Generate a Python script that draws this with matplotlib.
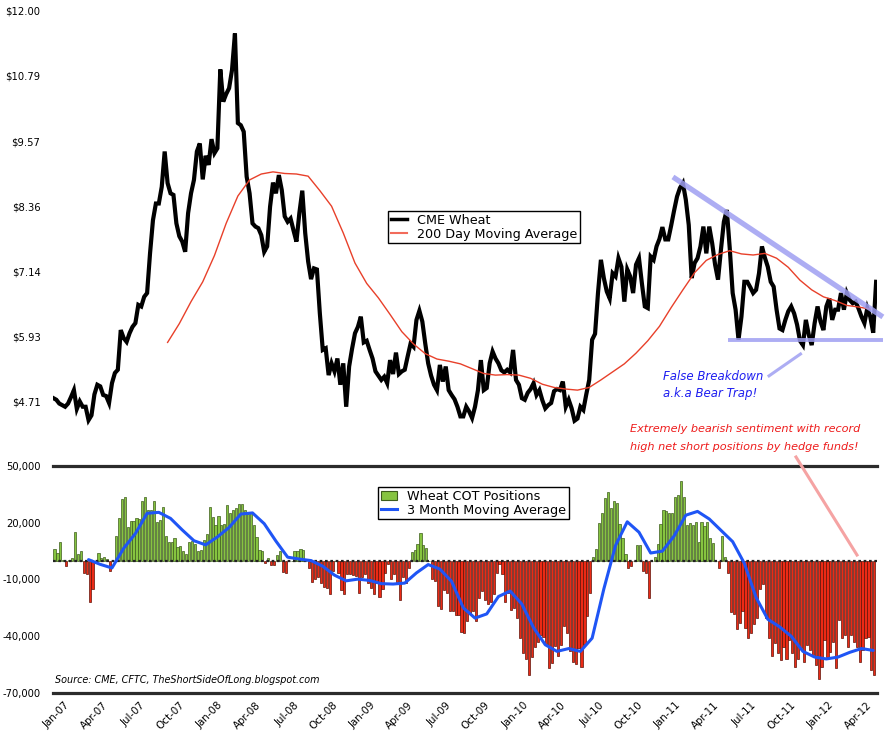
import numpy as np
import pandas as pd
import matplotlib
matplotlib.use("Agg")
import matplotlib.pyplot as plt
import matplotlib.dates as mdates
from matplotlib.lines import Line2D
from matplotlib.patches import Patch
from matplotlib.ticker import FuncFormatter

plt.rcParams['font.family'] = ['DejaVu Sans']

# weekly series, first week = 2006-12-05
first_week = pd.Timestamp("2006-12-05")

wheat_price = [
    4.78, 4.75, 4.68, 4.65, 4.62, 4.68, 4.80, 4.93, 4.58, 4.72,
    4.62, 4.62, 4.37, 4.46, 4.85, 5.03, 5.00, 4.84, 4.82, 4.69,
    5.06, 5.25, 5.31, 6.05, 5.90, 5.83, 5.99, 6.11, 6.18, 6.52,
    6.49, 6.67, 6.74, 7.48, 8.10, 8.41, 8.41, 8.72, 9.38, 8.79,
    8.60, 8.57, 8.04, 7.80, 7.70, 7.51, 8.23, 8.60, 8.85, 9.38,
    9.53, 8.86, 9.30, 9.13, 9.61, 9.35, 9.44, 10.91, 10.31, 10.45,
    10.56, 10.90, 11.58, 9.91, 9.87, 9.75, 8.91, 8.60, 8.04, 7.98,
    7.95, 7.82, 7.51, 7.61, 8.35, 8.80, 8.60, 8.94, 8.66, 8.17,
    8.07, 8.13, 7.91, 7.70, 8.23, 8.65, 7.86, 7.33, 7.00, 7.20,
    7.18, 6.36, 5.68, 5.71, 5.21, 5.43, 5.28, 5.52, 5.03, 5.43,
    4.62, 5.37, 5.70, 5.99, 6.11, 6.30, 5.82, 5.85, 5.68, 5.52,
    5.28, 5.20, 5.12, 5.18, 5.06, 5.49, 5.23, 5.63, 5.23, 5.28,
    5.31, 5.56, 5.80, 5.74, 6.24, 6.41, 6.21, 5.80, 5.43, 5.20,
    5.03, 4.93, 5.40, 5.09, 5.37, 4.93, 4.84, 4.76, 4.62, 4.44,
    4.44, 4.62, 4.53, 4.41, 4.62, 4.93, 5.49, 4.93, 4.97, 5.43,
    5.65, 5.52, 5.43, 5.30, 5.26, 5.31, 5.26, 5.68, 5.12, 5.03,
    4.78, 4.75, 4.88, 4.95, 5.06, 4.84, 4.93, 4.74, 4.59, 4.65,
    4.69, 4.91, 4.95, 4.93, 5.09, 4.62, 4.75, 4.59, 4.36, 4.40,
    4.62, 4.56, 4.85, 5.12, 5.87, 5.98, 6.74, 7.36, 7.02, 6.77,
    6.64, 7.11, 7.05, 7.39, 7.23, 6.58, 7.18, 7.05, 6.74, 7.27,
    7.39, 6.92, 6.49, 6.46, 7.42, 7.36, 7.61, 7.75, 7.97, 7.74,
    7.74, 8.00, 8.28, 8.54, 8.70, 8.79, 8.48, 8.01, 7.02, 7.30,
    7.39, 7.61, 7.98, 7.48, 7.98, 7.67, 7.27, 6.99, 7.55, 8.07,
    8.29, 7.58, 6.74, 6.43, 5.87, 6.30, 6.95, 6.95, 6.85, 6.74,
    6.80, 7.11, 7.61, 7.40, 7.23, 6.95, 6.86, 6.43, 6.08, 6.05,
    6.24, 6.40, 6.49, 6.36, 6.15, 5.85, 5.77, 6.24, 5.96, 5.77,
    6.18, 6.49, 6.21, 6.05, 6.49, 6.64, 6.24, 6.43, 6.43, 6.74,
    6.43, 6.74, 6.61, 6.55, 6.58, 6.45, 6.30, 6.18, 6.46, 6.30,
    6.00, 6.95,
]

# 200 day moving average, read every 4 weeks from week 39
ma200_first = 39
ma200 = [
    5.82, 6.17, 6.58, 6.95, 7.44, 8.04, 8.55, 8.85, 8.96, 9.00,
    8.97, 8.96, 8.92, 8.65, 8.36, 7.86, 7.30, 6.92, 6.65, 6.34,
    6.02, 5.79, 5.61, 5.51, 5.47, 5.42, 5.33, 5.24, 5.21, 5.22,
    5.21, 5.15, 5.04, 4.98, 4.95, 4.93, 4.98, 5.12, 5.27, 5.42,
    5.62, 5.85, 6.12, 6.47, 6.80, 7.12, 7.35, 7.46, 7.53, 7.47,
    7.45, 7.48, 7.39, 7.22, 6.98, 6.80, 6.67, 6.60, 6.51, 6.48,
    6.44,
]

# net COT positions, thousands of contracts
cot = [
    6.3, 3.9, 9.8, 0.4, -3.0, 0.5, 1.3, 15.2, 3.6, 5.0,
    -6.8, -7.1, -21.8, -14.8, 0, 3.9, 1.3, 1.8, 0.9, -5.7,
    0, 13.0, 22.7, 32.5, 33.4, 17.9, 21.1, 21.1, 22.7, 22.1,
    31.3, 33.4, 26.8, 26.8, 31.3, 20.5, 21.4, 28.2, 13.0, 9.8,
    9.8, 12.1, 7.1, 7.9, 5.0, 3.6, 9.8, 10.4, 8.9, 5.0,
    5.7, 11.1, 13.9, 28.2, 23.2, 18.6, 23.8, 18.9, 19.6, 29.5,
    25.0, 26.8, 28.0, 30.0, 30.0, 26.8, 24.6, 25.0, 18.9, 12.5,
    5.7, 5.0, -1.2, 1.3, -2.3, -2.3, 2.7, 5.0, -5.9, -6.3,
    0, 0, 5.0, 5.0, 6.1, 5.4, 0, -3.9, -11.3, -9.8,
    -8.9, -12.1, -13.9, -14.6, -17.5, -5.4, 0, -6.3, -15.7, -17.9,
    -7.1, -7.1, -7.5, -8.0, -17.0, -8.9, -7.1, -11.6, -14.3, -17.5,
    -11.6, -19.3, -15.2, -6.3, -1.8, -9.8, -7.1, -11.6, -21.1, -8.9,
    -11.6, -3.9, 4.5, 5.7, 8.9, 14.8, 8.0, 6.4, 0, -9.8,
    -10.7, -24.1, -25.4, -15.7, -17.0, -26.4, -26.8, -28.6, -28.9, -37.5,
    -38.4, -32.0, -27.7, -26.8, -31.8, -20.0, -16.0, -21.0, -23.2, -21.8,
    -17.9, -6.3, -1.8, -7.1, -21.8, -17.0, -25.9, -25.0, -30.4, -41.0,
    -49.0, -52.0, -60.7, -51.0, -45.5, -42.9, -39.3, -40.2, -44.6, -57.0,
    -54.0, -45.0, -50.5, -44.5, -34.8, -38.4, -48.0, -53.6, -54.5, -46.4,
    -56.0, -43.9, -29.5, -17.0, 1.8, 6.3, 20.0, 25.0, 33.0, 36.0,
    27.7, 31.3, 30.4, 19.6, 12.0, 3.6, -3.9, -2.7, 0, 8.4,
    8.0, -5.4, -6.3, -19.6, 0, 2.0, 8.9, 19.6, 26.8, 26.0,
    25.0, 25.0, 33.4, 34.5, 42.0, 33.4, 18.8, 20.0, 18.8, 20.5,
    9.8, 20.5, 18.2, 20.5, 12.1, 9.3, 0, -3.9, 12.9, 1.8,
    -6.3, -27.1, -28.2, -36.1, -33.0, -26.8, -35.7, -41.0, -38.4, -33.6,
    -30.4, -15.2, -12.5, -30.4, -40.7, -50.4, -43.8, -48.6, -52.7, -45.7,
    -52.1, -42.0, -49.1, -56.3, -51.8, -46.4, -53.6, -44.6, -47.3, -50.0,
    -55.4, -62.5, -56.3, -42.0, -50.9, -48.2, -42.9, -56.8, -31.3, -41.0,
    -39.3, -45.5, -39.3, -42.9, -45.5, -53.6, -47.3, -41.0, -40.2, -58.0,
    -60.7,
]

# 3 month moving average of COT, every 4 weeks from week 12
cot_ma_first = 12
cot_ma = [
    0.5, -2.0, -3.9, 6.5, 14.3, 25.0, 25.5, 22.3, 16.2, 10.5,
    8.3, 12.5, 17.5, 24.6, 25.2, 19.5, 10.3, 1.8, 0.8, 0.0,
    -3.0, -7.7, -10.7, -9.8, -10.5, -12.2, -12.4, -11.9, -6.5, -2.1,
    -4.5, -11.0, -25.0, -30.4, -28.2, -19.0, -16.1, -23.0, -35.5, -44.5,
    -48.0, -46.5, -48.0, -41.0, -15.0, 8.0, 20.5, 15.0, 4.0, 5.0,
    13.0, 24.0, 26.0, 22.0, 16.0, 10.0, -1.5, -19.5, -31.0, -35.0,
    -40.0, -48.0, -51.0, -52.0, -51.0, -48.5, -46.5, -47.5,
]

price_ticks = [4.71, 5.93, 7.14, 8.36, 9.57, 10.79, 12.00]
cot_ticks = [50000, 20000, -10000, -40000, -70000]


def week_dates(first, n, step=1):
    return first_week + pd.to_timedelta(np.arange(first, first + n * step, step) * 7, unit="D")


price_dates = week_dates(0, len(wheat_price))
ma200_dates = week_dates(ma200_first, len(ma200), 4)
cot_dates = week_dates(0, len(cot))
cot_ma_dates = week_dates(cot_ma_first, len(cot_ma), 4)
cot_vals = np.array(cot) * 1000
cot_ma_vals = np.array(cot_ma) * 1000

x_lo = first_week - pd.Timedelta(days=1)
x_hi = first_week + pd.Timedelta(days=7 * 281.3)

fig = plt.figure(figsize=(8.87, 7.37), dpi=100)

# ---- price panel
ax1 = fig.add_axes([53 / 887, 1 - 440 / 737, 824 / 887, 440 / 737])
ax1.plot(price_dates, wheat_price, color="black", lw=3.0, solid_joinstyle="miter")
ax1.plot(ma200_dates, ma200, color="#e8402a", lw=1.0)
ax1.set_xlim(x_lo, x_hi)
ax1.set_ylim(4.0, 12.205)
ax1.set_yticks(price_ticks)
ax1.set_yticklabels(["$%.2f" % v for v in price_ticks])
ax1.set_xticks([])
ax1.tick_params(axis="y", length=0, pad=9, labelsize=7.2)
for s in ax1.spines.values():
    s.set_visible(False)
ax1.patch.set_alpha(0)

leg1 = ax1.legend(
    handles=[Line2D([], [], color="black", lw=2.5), Line2D([], [], color="#f26b5b", lw=1.5)],
    labels=["CME Wheat", "200 Day Moving Average"],
    loc="upper left", bbox_to_anchor=(388 / 887, 1 - 211 / 737), bbox_transform=fig.transFigure,
    fancybox=False, framealpha=1, edgecolor="black", fontsize=9.2,
    borderpad=0.2, labelspacing=0.1, handlelength=1.3, handletextpad=0.8, borderaxespad=0,
)
leg1.get_frame().set_linewidth(1.0)

# triangle annotation (price coords)
tri_kw = dict(color="#9f9ff2", alpha=0.85, solid_capstyle="butt", clip_on=False)
ax1.plot([first_week + pd.Timedelta(weeks=211.6), first_week + pd.Timedelta(weeks=283.3)],
         [8.905, 6.295], lw=3.8, **tri_kw)
ax1.plot([first_week + pd.Timedelta(weeks=230.4), first_week + pd.Timedelta(weeks=283.3)],
         [5.867, 5.867], lw=2.8, **tri_kw)
ax1.plot([first_week + pd.Timedelta(weeks=244.0), first_week + pd.Timedelta(weeks=255.6)],
         [5.18, 5.62], lw=2.2, **tri_kw)

fig.text(663 / 887, 1 - 376 / 737, "False Breakdown", color="#1e1ef0", style="italic",
         fontsize=8.5, va="center", ha="left")
fig.text(663 / 887, 1 - 394 / 737, "a.k.a Bear Trap!", color="#1e1ef0", style="italic",
         fontsize=8.5, va="center", ha="left")
fig.text(630 / 887, 1 - 429 / 737, "Extremely bearish sentiment with record", color="#ee1c1c",
         style="italic", fontsize=8.1, va="center", ha="left")
fig.text(630 / 887, 1 - 447 / 737, "high net short positions by hedge funds!", color="#ee1c1c",
         style="italic", fontsize=8.1, va="center", ha="left")
fig.add_artist(Line2D([796 / 887, 857 / 887], [1 - 457 / 737, 1 - 555 / 737],
                      transform=fig.transFigure, color="#f5a3a3", lw=2.2))

# ---- COT panel
ax2 = fig.add_axes([53 / 887, 1 - 693 / 737, 824 / 887, 227 / 737])
colors = ["#86c440" if v >= 0 else "#ec2a15" for v in cot_vals]
edges = ["#3d5c1c" if v >= 0 else "#5e1208" for v in cot_vals]
ax2.bar(cot_dates, cot_vals, width=5.2, align="edge", color=colors, edgecolor=edges, linewidth=0.5)
ax2.axhline(0, color="#222222", lw=1.6, ls=(0, (1.2, 1.2)))
ax2.plot(cot_ma_dates, cot_ma_vals, color="#1f55f5", lw=2.2, solid_capstyle="round")
ax2.set_xlim(x_lo, x_hi)
ax2.set_ylim(-70000, 50000)
ax2.set_yticks(cot_ticks)
ax2.yaxis.set_major_formatter(FuncFormatter(lambda v, p: "{:,.0f}".format(v)))
ax2.tick_params(axis="y", length=0, pad=9, labelsize=7.2)
for s in ["left", "right"]:
    ax2.spines[s].set_visible(False)
for s in ["top", "bottom"]:
    ax2.spines[s].set_linewidth(2.3)
    ax2.spines[s].set_color("#2b2b2b")

ax2.xaxis.set_major_locator(mdates.MonthLocator(bymonth=[1, 4, 7, 10]))
ax2.xaxis.set_major_formatter(mdates.DateFormatter("%b-%y"))
ax2.tick_params(axis="x", length=0, pad=5, labelsize=7.4)
for lab in ax2.get_xticklabels():
    lab.set_rotation(45)
    lab.set_ha("right")
    lab.set_va("top")
    lab.set_rotation_mode("anchor")

leg2 = ax2.legend(
    handles=[Patch(facecolor="#86c440", edgecolor="#3d5c1c", lw=0.8), Line2D([], [], color="#1f55f5", lw=2.2)],
    labels=["Wheat COT Positions", "3 Month Moving Average"],
    loc="upper left", bbox_to_anchor=(378 / 887, 1 - 487 / 737), bbox_transform=fig.transFigure,
    fancybox=False, framealpha=1, edgecolor="black", fontsize=9.2,
    borderpad=0.2, labelspacing=0.1, handlelength=1.3, handletextpad=0.8, borderaxespad=0,
)
leg2.get_frame().set_linewidth(1.0)

ax2.text(0.003, 0.035, "Source: CME, CFTC, TheShortSideOfLong.blogspot.com", transform=ax2.transAxes,
         style="italic", fontsize=6.9, ha="left", va="bottom")

fig.savefig("out.png", dpi=100)
